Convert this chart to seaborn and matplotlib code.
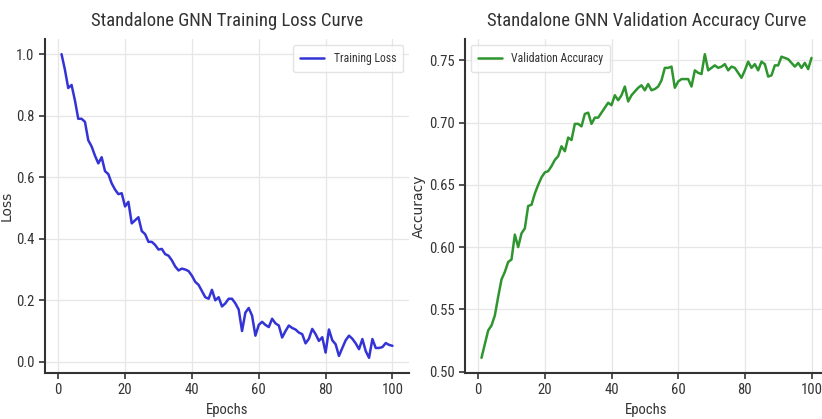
import numpy as np
import pandas as pd
import seaborn as sns
import matplotlib
matplotlib.use("Agg")
import matplotlib.pyplot as plt
from matplotlib import font_manager as fm

epochs = list(range(1, 101))
train_loss = [
    1.00, 0.95, 0.89, 0.90, 0.85, 0.79, 0.79, 0.78, 0.72, 0.70,
    0.67, 0.645, 0.665, 0.62, 0.61, 0.58, 0.56, 0.545, 0.548, 0.505,
    0.52, 0.45, 0.46, 0.47, 0.425, 0.415, 0.39, 0.39, 0.38, 0.365,
    0.367, 0.35, 0.345, 0.33, 0.31, 0.297, 0.303, 0.30, 0.295, 0.28,
    0.26, 0.25, 0.23, 0.21, 0.205, 0.234, 0.20, 0.21, 0.18, 0.19,
    0.205, 0.205, 0.19, 0.17, 0.10, 0.16, 0.175, 0.15, 0.085, 0.12,
    0.13, 0.12, 0.113, 0.14, 0.125, 0.118, 0.079, 0.10, 0.118, 0.11,
    0.105, 0.095, 0.09, 0.06, 0.075, 0.107, 0.09, 0.068, 0.08, 0.03,
    0.105, 0.07, 0.057, 0.019, 0.045, 0.07, 0.085, 0.075, 0.06, 0.041,
    0.074, 0.035, 0.013, 0.074, 0.045, 0.045, 0.048, 0.061, 0.055, 0.052,
]
val_acc = [
    0.511, 0.522, 0.533, 0.537, 0.545, 0.560, 0.574, 0.580, 0.588, 0.590,
    0.610, 0.600, 0.611, 0.615, 0.633, 0.634, 0.643, 0.650, 0.656, 0.660,
    0.661, 0.665, 0.670, 0.673, 0.681, 0.677, 0.688, 0.686, 0.699, 0.699,
    0.697, 0.707, 0.708, 0.699, 0.704, 0.704, 0.708, 0.712, 0.716, 0.714,
    0.722, 0.718, 0.722, 0.729, 0.717, 0.722, 0.725, 0.728, 0.730, 0.726,
    0.731, 0.726, 0.727, 0.729, 0.734, 0.744, 0.744, 0.745, 0.728, 0.733,
    0.735, 0.735, 0.735, 0.729, 0.742, 0.740, 0.739, 0.755, 0.742, 0.744,
    0.746, 0.744, 0.745, 0.747, 0.742, 0.745, 0.744, 0.740, 0.736, 0.742,
    0.749, 0.744, 0.747, 0.742, 0.749, 0.747, 0.737, 0.738, 0.746, 0.746,
    0.753, 0.752, 0.751, 0.748, 0.745, 0.748, 0.744, 0.748, 0.743, 0.752,
]
titles = ["Standalone GNN Training Loss Curve", "Standalone GNN Validation Accuracy Curve"]
ylabels = ["Loss", "Accuracy"]
series_names = ["Training Loss", "Validation Accuracy"]
xlabel = "Epochs"

sns.set_style("ticks", {"axes.grid": True, "grid.color": "#e6e6e6"})

# pick a condensed font if one is available
names = {f.name for f in fm.fontManager.ttflist}
cond = None
for cand in ["Liberation Sans Narrow", "DejaVu Sans Condensed", "Roboto Condensed", "Open Sans Condensed"]:
    if cand in names:
        cond = cand
        break
stretch = "normal"
if cond is None:
    for f in fm.fontManager.ttflist:
        if f.name == "DejaVu Sans" and f.stretch in ("condensed", 750, "semi-condensed", 500):
            stretch = "condensed"
            break
    cond = "DejaVu Sans"
plt.rcParams["font.family"] = [cond, "DejaVu Sans"]
plt.rcParams["font.stretch"] = stretch
text_color = "#333333"
plt.rcParams["text.color"] = text_color
plt.rcParams["axes.labelcolor"] = text_color
plt.rcParams["xtick.color"] = text_color
plt.rcParams["ytick.color"] = text_color

W, H = 822, 419
fig = plt.figure(figsize=(W / 100, H / 100), dpi=100)
ax1 = fig.add_axes([45 / W, 46 / H, 364 / W, 334 / H])
ax2 = fig.add_axes([465 / W, 46 / H, 363 / W, 334 / H])

df = pd.DataFrame({"Epoch": epochs, "Loss": train_loss, "Accuracy": val_acc})

sns.lineplot(data=df, x="Epoch", y="Loss", ax=ax1, color="#3434d6", linewidth=1.8,
             label=series_names[0])
sns.lineplot(data=df, x="Epoch", y="Accuracy", ax=ax2, color="#2f962f", linewidth=1.8,
             label=series_names[1])

for ax, t, yl, loc in zip([ax1, ax2], titles, ylabels, ["upper right", "upper left"]):
    ax.set_title(t, fontsize=13.5, pad=9)
    ax.set_xlabel(xlabel, fontsize=10.5, labelpad=4)
    ax.set_ylabel(yl, fontsize=10, family=["DejaVu Sans"], stretch="normal")
    ax.set_xticks([0, 20, 40, 60, 80, 100])
    ax.tick_params(labelsize=10.5, length=4, width=1.2, color="#333333")
    for s in ["top", "right"]:
        ax.spines[s].set_visible(False)
    for s in ["left", "bottom"]:
        ax.spines[s].set_color("#333333")
        ax.spines[s].set_linewidth(1.5)
    ax.grid(True, color="#e6e6e6", linewidth=0.9)
    leg = ax.legend(loc=loc, fontsize=8.5, frameon=True, handlelength=2.0,
                    borderpad=0.6)
    leg.get_frame().set_edgecolor("#dddddd")

ax1.yaxis.set_label_coords(-0.085, 0.5)
ax2.yaxis.set_label_coords(-0.108, 0.5)

ax1.set_yticks([0.0, 0.2, 0.4, 0.6, 0.8, 1.0])
ax2.set_yticks([0.50, 0.55, 0.60, 0.65, 0.70, 0.75])
ax2.yaxis.set_major_formatter(matplotlib.ticker.FormatStrFormatter("%.2f"))

fig.savefig("out.png", dpi=100)
